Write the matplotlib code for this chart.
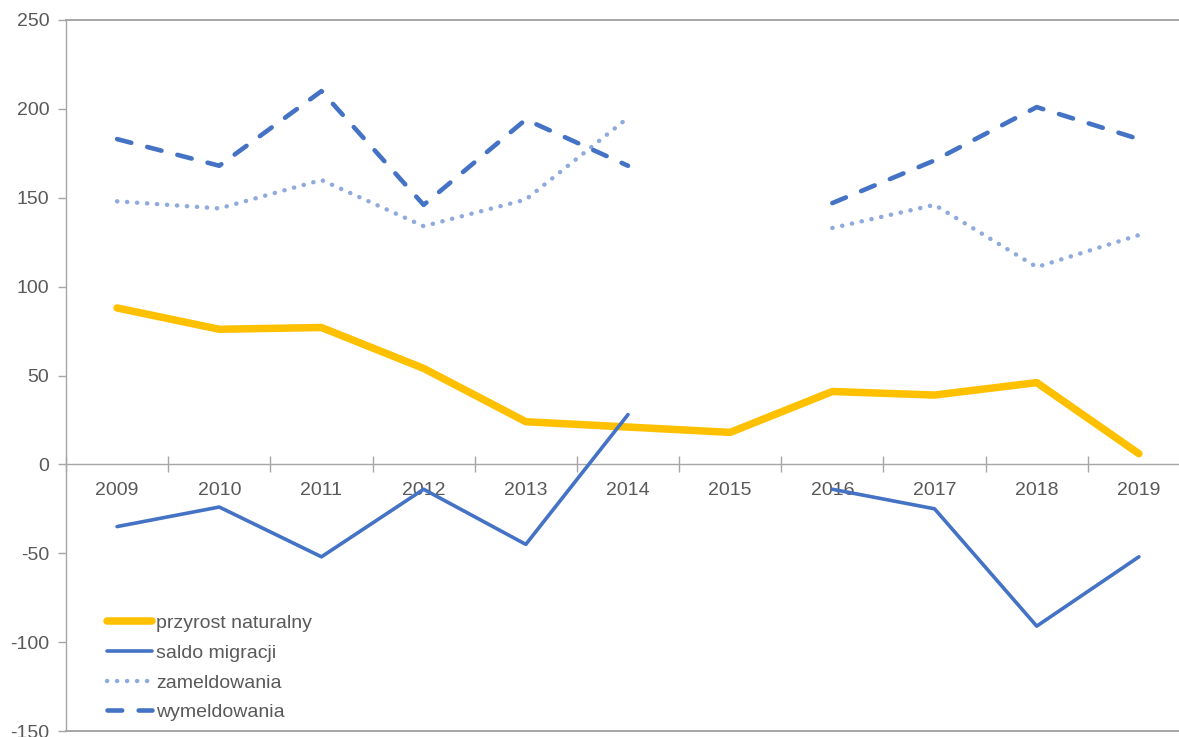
import numpy as np
import matplotlib
matplotlib.use("Agg")
import matplotlib.pyplot as plt
from matplotlib.ticker import FixedLocator

plt.rcParams['font.family'] = ['Liberation Sans', 'DejaVu Sans']
plt.rcParams['axes.unicode_minus'] = False

years = ["2009", "2010", "2011", "2012", "2013", "2014", "2015", "2016", "2017", "2018", "2019"]
przyrost = [88, 76, 77, 54, 24, 21, 18, 41, 39, 46, 6]
saldo = [-35, -24, -52, -14, -45, 28, np.nan, -14, -25, -91, -52]
zameldowania = [148, 144, 160, 134, 149, 195, np.nan, 133, 146, 111, 129]
wymeldowania = [183, 168, 210, 146, 194, 168, np.nan, 147, 171, 201, 183]

W, H = 1179, 737
fig = plt.figure(figsize=(W / 100, H / 100), dpi=100)
left, right, top, bottom = 66, 1190, 20, 731
ax = fig.add_axes([left / W, 1 - bottom / H, (right - left) / W, (bottom - top) / H])

x = np.arange(len(years))
ax.plot(x, przyrost, color='#FFC000', lw=5.4, solid_capstyle='round', solid_joinstyle='round',
        label='przyrost naturalny', zorder=3)
ax.plot(x, saldo, color='#4472C4', lw=2.6, solid_capstyle='round', solid_joinstyle='round',
        label='saldo migracji', zorder=4)
ax.plot(x, zameldowania, color='#8FAADC', lw=3.2, dashes=(0.05, 2.2), dash_capstyle='round',
        label='zameldowania', zorder=3)
ax.plot(x, wymeldowania, color='#4472C4', lw=3.3, dashes=(3.2, 3.6), dash_capstyle='round',
        label='wymeldowania', zorder=3)

ax.set_xlim(-0.5, len(years) - 0.5)
ax.set_ylim(-150, 250)
ax.set_yticks(np.arange(-150, 251, 50))

spine_c = '#A6A6A6'
label_c = '#595959'
ax.spines['right'].set_visible(False)
for s in ['left', 'top', 'bottom']:
    ax.spines[s].set_color(spine_c)
    ax.spines[s].set_linewidth(1.0)
ax.spines['bottom'].set_position(('data', 0))
ax.spines['bottom'].set_zorder(1)
ax.axhline(-150, color=spine_c, lw=1.4, clip_on=False, zorder=1)
ax.spines['top'].set_linewidth(1.4)

ax.set_xticks(x)
ax.set_xticklabels(years)
ax.xaxis.set_minor_locator(FixedLocator(np.arange(-0.5, len(years), 1.0)))
ax.tick_params(axis='x', which='major', length=0, pad=13, labelsize=14, labelcolor=label_c)
ax.tick_params(axis='x', which='minor', length=12, direction='inout', color=spine_c, width=1.0)
ax.tick_params(axis='y', which='major', length=6, direction='out', color=spine_c, width=1.0,
               pad=6, labelsize=14, labelcolor=label_c)

leg = ax.legend(loc='lower left', bbox_to_anchor=(99 / W, 8 / H), bbox_transform=fig.transFigure,
                borderaxespad=0, frameon=False, fontsize=14, handlelength=2.35,
                handletextpad=0.2, labelspacing=0.62, borderpad=0.4)
for t in leg.get_texts():
    t.set_color(label_c)

fig.savefig('out.png', dpi=100)
